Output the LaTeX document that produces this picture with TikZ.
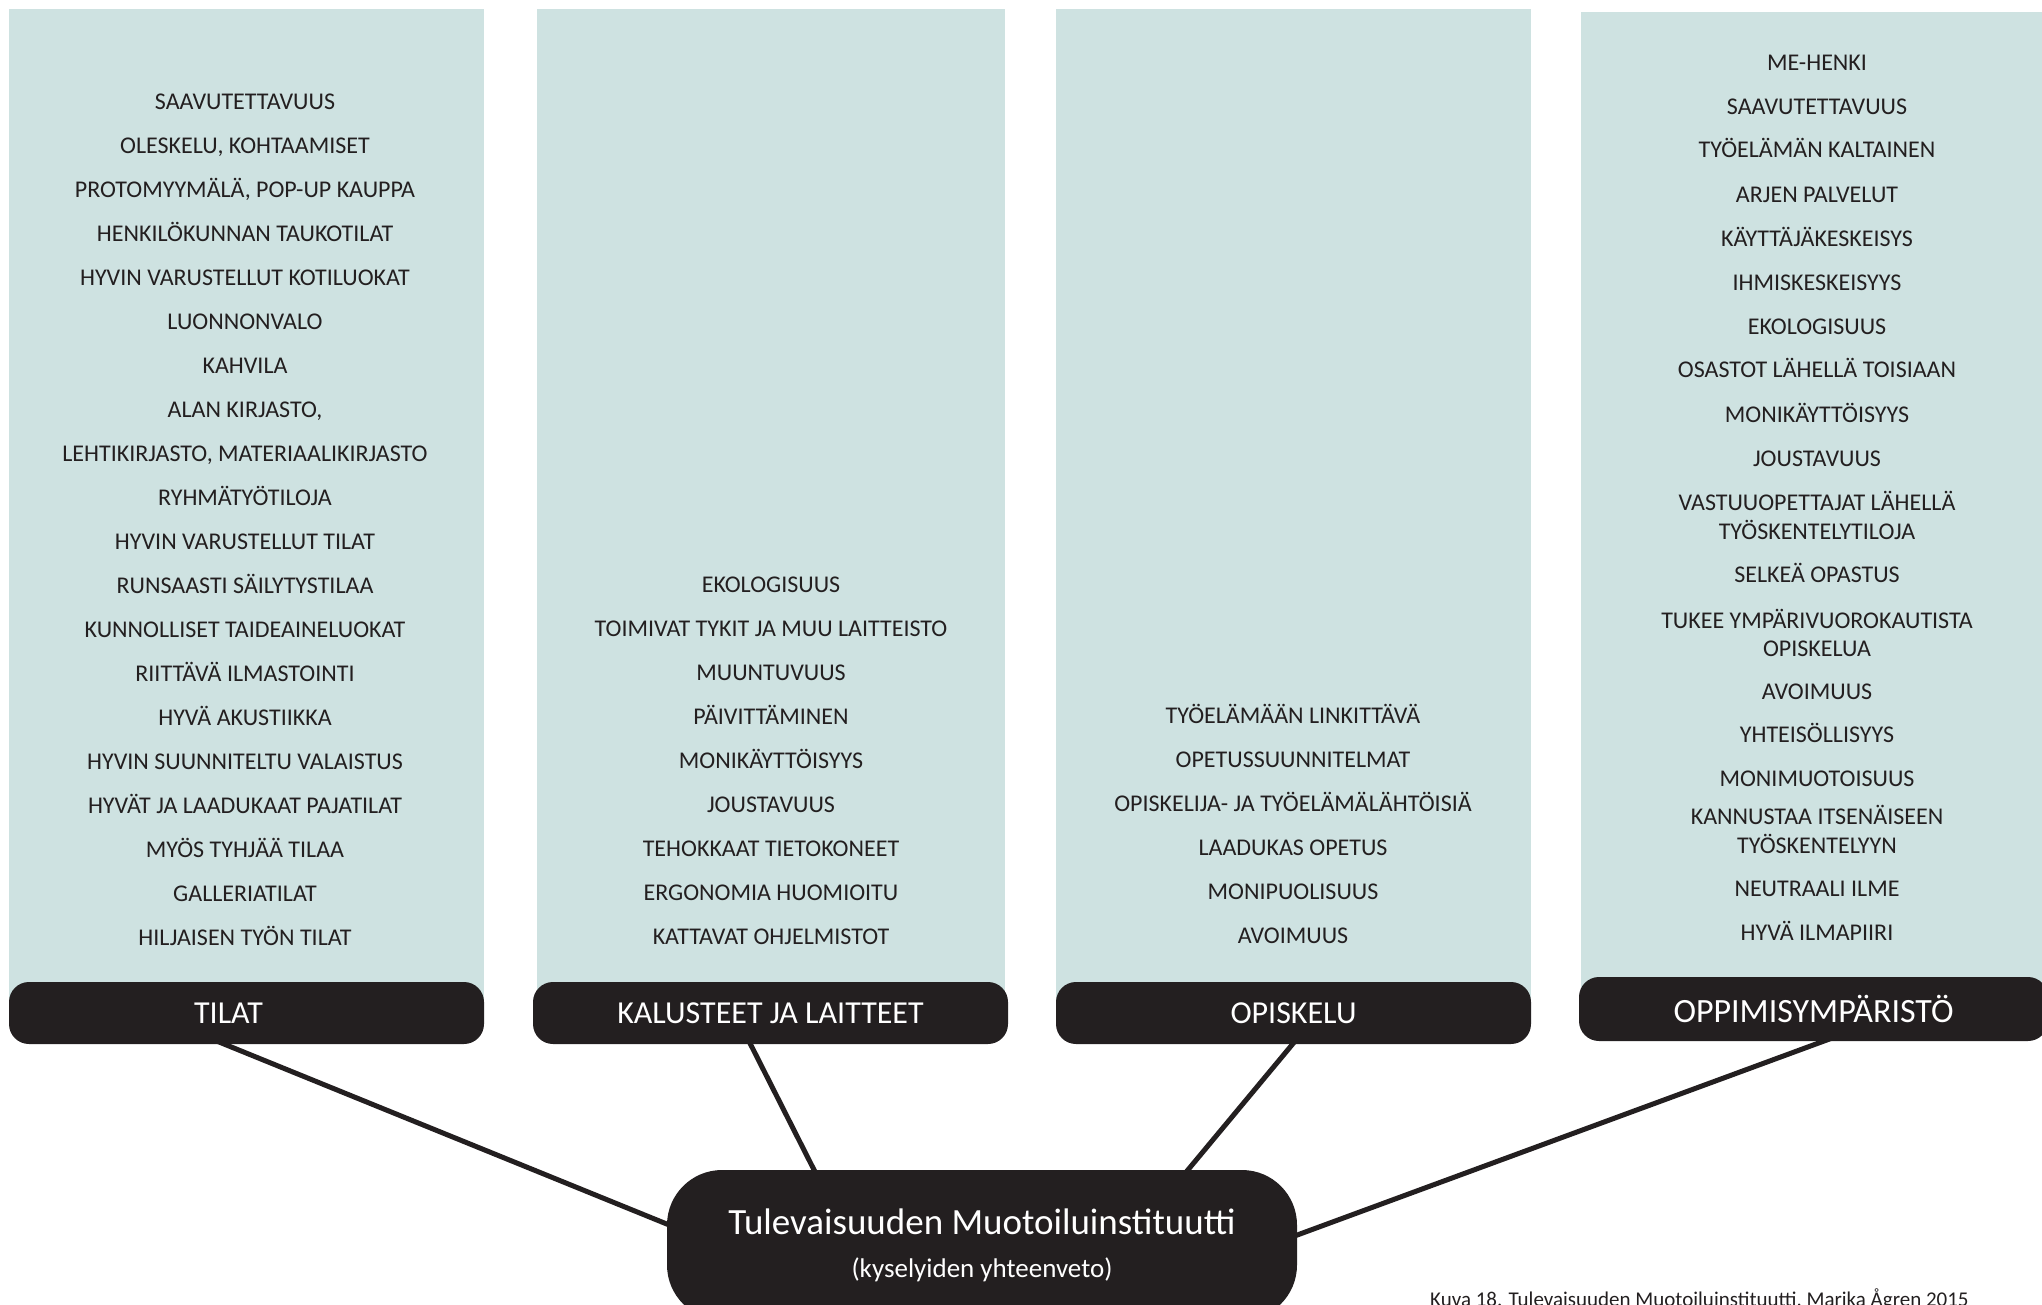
\documentclass[tikz,border=0pt]{standalone}
\usepackage{fontspec}
\setmainfont{Carlito}
\usetikzlibrary{calc,backgrounds}

\definecolor{colbg}{HTML}{CEE2E1}
\definecolor{ink}{HTML}{231F20}

\begin{document}
\begin{tikzpicture}[x=1pt,y=-1pt]
      \tikzset{colfill/.style={fill=colbg, draw=none}}
      \tikzset{header/.style={fill=ink, text=white, rounded corners=20pt,
          minimum width=475, minimum height=62, inner sep=0pt,
          font=\fontsize{32}{38}\selectfont}}
      \tikzset{item/.style={text=ink, align=center, inner sep=0pt,
          text height=20pt, text depth=4pt,
          font=\fontsize{24}{28.6}\selectfont}}
      \tikzset{itemii/.style={item, text height=, text depth=}}
      \tikzset{hub/.style={fill=ink, text=white, rounded corners=55pt,
          minimum width=630, minimum height=150, align=center, inner sep=0pt}}
      \tikzset{link/.style={draw=ink, line width=5pt,
          shorten <=-8pt, shorten >=-8pt}}

      \useasboundingbox (0,0) rectangle (2042,1304);
      \clip (0,0) rectangle (2042,1304);

      \fill[colfill] (9,9) rectangle (484,1013);
      \fill[colfill] (537,9) rectangle (1005,1013);
      \fill[colfill] (1056,9) rectangle (1531,1013);
      \fill[colfill] (1581,12) rectangle (2042,1009);

      \foreach \t [count=\i from 0] in {SAAVUTETTAVUUS, {OLESKELU, KOHTAAMISET},
          {PROTOMYYMÄLÄ, POP-UP KAUPPA}, HENKILÖKUNNAN TAUKOTILAT,
          HYVIN VARUSTELLUT KOTILUOKAT, LUONNONVALO, KAHVILA, {ALAN KIRJASTO,},
          {LEHTIKIRJASTO, MATERIAALIKIRJASTO}, RYHMÄTYÖTILOJA,
          HYVIN VARUSTELLUT TILAT, RUNSAASTI SÄILYTYSTILAA,
          KUNNOLLISET TAIDEAINELUOKAT, RIITTÄVÄ ILMASTOINTI, HYVÄ AKUSTIIKKA,
          HYVIN SUUNNITELTU VALAISTUS, HYVÄT JA LAADUKAAT PAJATILAT,
          MYÖS TYHJÄÄ TILAA, GALLERIATILAT, HILJAISEN TYÖN TILAT}
        \node[item] (tilat-\i) at (245,101.6+44*\i) {\t};

      \foreach \t [count=\i from 0] in {EKOLOGISUUS, TOIMIVAT TYKIT JA MUU LAITTEISTO,
          MUUNTUVUUS, PÄIVITTÄMINEN, MONIKÄYTTÖISYYS, JOUSTAVUUS,
          TEHOKKAAT TIETOKONEET, ERGONOMIA HUOMIOITU, KATTAVAT OHJELMISTOT}
        \node[item] (kal-\i) at (771,584.7+44*\i) {\t};

      \foreach \t [count=\i from 0] in {TYÖELÄMÄÄN LINKITTÄVÄ, OPETUSSUUNNITELMAT,
          OPISKELIJA- JA TYÖELÄMÄLÄHTÖISIÄ, LAADUKAS OPETUS, MONIPUOLISUUS, AVOIMUUS}
        \node[item] (opi-\i) at (1293,715+44*\i) {\t};

      \foreach \y/\t [count=\i from 0] in {62.5/ME-HENKI, 106.8/SAAVUTETTAVUUS,
          149.8/TYÖELÄMÄN KALTAINEN, 194/ARJEN PALVELUT, 238.3/KÄYTTÄJÄKESKEISYS,
          282.6/IHMISKESKEISYYS, 326.9/EKOLOGISUUS, 369.9/OSASTOT LÄHELLÄ TOISIAAN,
          414.1/MONIKÄYTTÖISYYS, 458.4/JOUSTAVUUS, 574.3/SELKEÄ OPASTUS,
          691.5/AVOIMUUS, 734.5/YHTEISÖLLISYYS, 778.8/MONIMUOTOISUUS,
          888.2/NEUTRAALI ILME, 932.4/HYVÄ ILMAPIIRI}
        \node[item] (ymp-\i) at (1817,\y) {\t};
      \node[itemii] (ymp-vast) at (1817,515.7) {VASTUUOPETTAJAT LÄHELLÄ\\TYÖSKENTELYTILOJA};
      \node[itemii] (ymp-tukee) at (1817,632.9) {TUKEE YMPÄRIVUOROKAUTISTA\\OPISKELUA};
      \node[itemii] (ymp-kann) at (1817,829.6) {KANNUSTAA ITSENÄISEEN\\TYÖSKENTELYYN};

      \node[header] (tilat) at (246.5,1013) {\hspace*{-36pt}TILAT};
      \node[header] (kalusteet) at (770.5,1013) {KALUSTEET JA LAITTEET};
      \node[header] (opiskelu) at (1293.5,1013) {OPISKELU};
      \node[header, minimum width=469, minimum height=64,
        font=\fontsize{34}{40}\selectfont] (oppimis) at (1813.5,1009) {OPPIMISYMPÄRISTÖ};

      \node[hub, font=\fontsize{37}{43}\selectfont] (tmi) at (982,1245)
        {Tulevaisuuden Muotoiluinstituutti\\
         \fontsize{27}{43}\selectfont (kyselyiden yhteenveto)};

      \node[text=ink, font=\fontsize{21}{25}\selectfont, anchor=base west, inner sep=0pt]
        (kuva) at (1430,1306) {Kuva 18. Tulevaisuuden Muotoiluinstituutti, Marika Ågren 2015};

      \begin{pgfonlayer}{background}
        \draw[link] ($(tilat.south)+(-22,0)$) -- ($(tmi.west)+(0,-21)$);
        \draw[link] ($(kalusteet.south)+(-20,0)$) -- ($(tmi.north)+(-168,0)$);
        \draw[link] ($(opiskelu.south)+(-1,0)$) -- ($(tmi.north)+(206,0)$);
        \draw[link] ($(oppimis.south)+(10,0)$) -- ($(tmi.east)+(0,-10)$);
      \end{pgfonlayer}
    \end{tikzpicture}
\end{document}
